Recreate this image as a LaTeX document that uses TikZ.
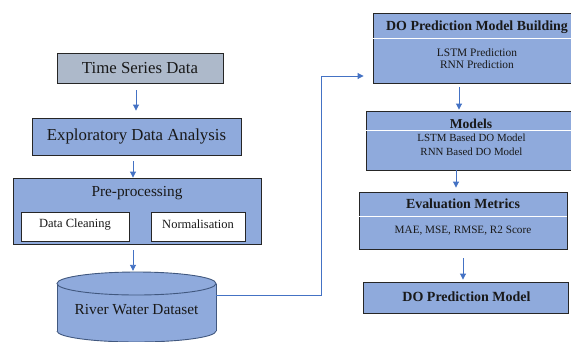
\documentclass[tikz,border=0pt]{standalone}
\usepackage{fontspec}
\setmainfont{Liberation Serif}
\usetikzlibrary{arrows.meta,calc}
\definecolor{boxblue}{HTML}{8FAADC}
\definecolor{boxgray}{HTML}{ADB9CA}
\definecolor{linkblue}{HTML}{4472C4}
\definecolor{edgegray}{HTML}{262626}
\definecolor{cyledge}{HTML}{41587F}
\begin{document}
\begin{tikzpicture}[x=1pt,y=-1pt,
  box/.style={draw=edgegray, line width=0.9pt, fill=boxblue, inner sep=0pt},
  subbox/.style={draw=edgegray, line width=0.9pt, fill=white, inner sep=0pt},
  txt/.style={inner sep=0pt, text=black!90, align=center},
  fbig/.style={font=\fontsize{16.8}{20}\selectfont},
  fmid/.style={font=\fontsize{15.3}{18}\selectfont},
  fsmall/.style={font=\fontsize{12.5}{15}\selectfont},
  fbold/.style={font=\fontsize{13.9}{16}\selectfont\bfseries},
  fbody/.style={font=\fontsize{11.2}{12.5}\selectfont},
  divider/.style={draw=white, line width=1.2pt},
  arr/.style={draw=linkblue, line width=0.9pt, -{Triangle[width=6pt,length=6pt]}}]
\useasboundingbox (0,0) rectangle (571,341);
\clip (0,0) rectangle (571,341);
\fill[white] (0,0) rectangle (571,341);

% left column
\node[box, fill=boxgray, minimum width=166pt, minimum height=30pt] (tsd) at (140,68) {};
\node[txt, fbig] (tsdt) at (tsd.center) {Time Series Data};
\node[box, minimum width=209pt, minimum height=37pt] (eda) at (136.5,136.5) {};
\node[txt, fbig] (edat) at (eda.center) {Exploratory Data Analysis};
\node[box, minimum width=248pt, minimum height=66pt] (pre) at (137,211) {};
\node[txt, fmid] (pret) at (137,193) {Pre-processing};
\node[subbox, minimum width=108pt, minimum height=29pt] (dc) at (75,226.5) {};
\node[txt, fsmall] (dct) at (75,224.5) {Data Cleaning};
\node[subbox, minimum width=94pt, minimum height=29pt] (norm) at (198,226.5) {};
\node[txt, fsmall] (normt) at (198,224.5) {Normalisation};

% cylinder
\node[minimum width=159pt, minimum height=70pt, inner sep=0pt] (cyl) at (136.5,307) {};
\fill[boxblue] (136.5,331) ellipse [x radius=79.5pt, y radius=11pt];
\fill[boxblue] (57,283.5) rectangle (216,331);
\draw[cyledge, line width=0.9pt] (57,283.5) -- (57,331) (216,283.5) -- (216,331);
\begin{scope}
  \clip (50,331) rectangle (225,350);
  \draw[cyledge, line width=0.9pt] (136.5,331) ellipse [x radius=79.5pt, y radius=11pt];
\end{scope}
\draw[cyledge, line width=0.9pt, fill=boxblue] (136.5,283.5) ellipse [x radius=79.5pt, y radius=11.5pt];
\node[txt, fmid] (cylt) at (136.5,310) {River Water Dataset};

% right column
\node[box, minimum width=208pt, minimum height=70pt] (dob) at (477,48) {};
\draw[divider] ($(dob.north west)+(0.6,26)$) -- ($(dob.north east)+(-0.6,26)$);
\node[txt, fbold] (dobt) at (477,27) {DO Prediction Model Building};
\node[txt, fbody, font=\fontsize{11.4}{12}\selectfont] (dobb) at (477,59) {LSTM Prediction\\RNN Prediction};

\node[box, minimum width=211pt, minimum height=59pt] (mod) at (471.5,140.5) {};
\draw[divider] ($(mod.north west)+(0.6,20)$) -- ($(mod.north east)+(-0.6,20)$);
\node[txt, fbold, font=\fontsize{13.6}{16}\selectfont\bfseries] (modt) at (471,123.5) {Models};
\node[txt, fbody, font=\fontsize{10.9}{14}\selectfont] (modb) at (471.5,145) {LSTM Based DO Model\\RNN Based DO Model};

\node[box, minimum width=208pt, minimum height=57pt] (eva) at (463,220.5) {};
\draw[divider] ($(eva.north west)+(0.6,25)$) -- ($(eva.north east)+(-0.6,25)$);
\node[txt, fbold] (evat) at (463,204) {Evaluation Metrics};
\node[txt, fbody] (evab) at (463,231) {MAE, MSE, RMSE, R2 Score};

\node[box, minimum width=205pt, minimum height=31pt] (dopm) at (465.5,297.5) {};
\node[txt, fbold, font=\fontsize{14}{16}\selectfont\bfseries] (dopmt) at (466.5,296.5) {DO Prediction Model};

% connectors
\draw[arr] ($(tsd.south)+(-4,7)$) -- ($(eda.north)+(-0.5,-7)$);
\draw[arr] ($(eda.south)+(-3.5,6)$) -- ($(pre.north)+(-4,0)$);
\draw[arr] ($(pre.south)+(-4,6)$) -- ($(cyl.north)+(-3.5,-1)$);
\draw[arr, shorten >=9pt] ([yshift=12pt]cyl.east) -- ++(105,0) |- ([yshift=-28pt]dob.west);
\draw[arr] ($(dob.south)+(-18,4)$) -- ($(mod.north)+(-12.5,-1)$);
\draw[arr] ($(mod.south)+(-15.5,0)$) -- ($(eva.north)+(-7,-4)$);
\draw[arr] ($(eva.south)+(0,9)$) -- ($(dopm.north)+(-2.5,-2)$);
\end{tikzpicture}
\end{document}
